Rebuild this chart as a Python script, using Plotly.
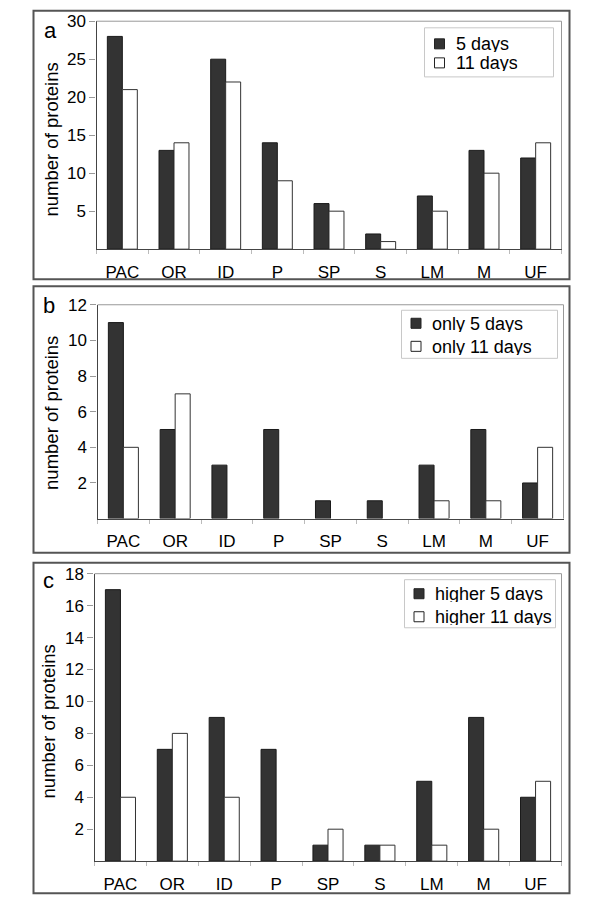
import plotly.graph_objects as go

categories = ["PAC", "OR", "ID", "P", "SP", "S", "LM", "M", "UF"]

a_5days = [28, 13, 25, 14, 6, 2, 7, 13, 12]
a_11days = [21, 14, 22, 9, 5, 1, 5, 10, 14]

b_only5 = [11, 5, 3, 5, 1, 1, 3, 5, 2]
b_only11 = [4, 7, 0, 0, 0, 0, 1, 1, 4]

c_higher5 = [17, 7, 9, 7, 1, 1, 5, 9, 4]
c_higher11 = [4, 8, 4, 0, 2, 1, 1, 2, 5]

names_a = ["5 days", "11 days"]
names_b = ["only 5 days", "only 11 days"]
names_c = ["higher 5 days", "higher 11 days"]

ticks_a = [5, 10, 15, 20, 25, 30]
ticks_b = [2, 4, 6, 8, 10, 12]
ticks_c = [2, 4, 6, 8, 10, 12, 14, 16, 18]

W, H = 600, 906
FONT = "Arial, Liberation Sans, sans-serif"
DARK = "#333333"

# mapping from screenshot pixel positions to figure paper coordinates
def px(xp):
    return (xp - 7.5) / W

def py(yp):
    return 1 - ((yp - 17.2) / 0.9885) / H

def nz(vals):
    return [v if v != 0 else None for v in vals]

panels = [
    dict(s=(a_5days, a_11days), n=names_a, t=ticks_a, ymax=30,
         xl=96, xr=561, yt=21.4, yb=249, box=(33, 11, 569, 279),
         lab="a", lp=(50, 31), tpos=(51, 140),
         leg=(424, 28, 553, 77), mk=(439, 44, 63), tx=453),
    dict(s=(b_only5, b_only11), n=names_b, t=ticks_b, ymax=12,
         xl=97, xr=563, yt=304.5, yb=518, box=(33, 286, 569, 552),
         lab="b", lp=(48, 305), tpos=(51, 413),
         leg=(401, 310, 557, 358), mk=(415.5, 323, 346), tx=429),
    dict(s=(c_higher5, c_higher11), n=names_c, t=ticks_c, ymax=18,
         xl=94, xr=561, yt=573, yb=860, box=(33, 562, 569, 892),
         lab="c", lp=(48, 580), tpos=(48, 721),
         leg=(404, 579, 555, 627), mk=(418.5, 593, 616), tx=432),
]

fig = go.Figure()
shapes = []
annotations = []
layout = {}

for i, p in enumerate(panels):
    k = "" if i == 0 else str(i + 1)
    xa, ya = "x" + k, "y" + k
    s5, s11 = p["s"]
    fig.add_trace(go.Bar(x=categories, y=nz(s5), name=p["n"][0], xaxis=xa, yaxis=ya,
                         marker=dict(color=DARK, line=dict(color="#1a1a1a", width=1)),
                         showlegend=False))
    fig.add_trace(go.Bar(x=categories, y=nz(s11), name=p["n"][1], xaxis=xa, yaxis=ya,
                         marker=dict(color="white", line=dict(color="#333333", width=1)),
                         showlegend=False))
    layout["xaxis" + k] = dict(
        domain=[px(p["xl"]), px(p["xr"])], anchor=ya,
        showline=True, linecolor="#444444", linewidth=1.2,
        ticks="outside", tickson="boundaries", ticklen=4, tickcolor="#bbbbbb",
        ticklabelstandoff=7,
        tickfont=dict(family=FONT, size=17, color="black"),
        showgrid=False, zeroline=False, fixedrange=True,
    )
    layout["yaxis" + k] = dict(
        domain=[py(p["yb"]), py(p["yt"])], anchor=xa,
        range=[0, p["ymax"]], tickmode="array", tickvals=p["t"],
        showline=True, linecolor="#444444", linewidth=1.2,
        ticks="outside", ticklen=6, tickcolor="#999999",
        tickfont=dict(family=FONT, size=17, color="black"),
        showgrid=False, zeroline=False, fixedrange=True,
    )
    shapes.append(dict(type="line", xref=xa + " domain", yref=ya + " domain",
                       x0=0, x1=1, y0=1, y1=1, line=dict(color="#999999", width=1)))
    shapes.append(dict(type="line", xref=xa + " domain", yref=ya + " domain",
                       x0=1, x1=1, y0=0, y1=1, line=dict(color="#999999", width=1)))
    bx0, by0, bx1, by1 = p["box"]
    shapes.append(dict(type="rect", xref="paper", yref="paper",
                       x0=px(bx0), x1=px(bx1), y0=py(by1), y1=py(by0),
                       line=dict(color="#555555", width=2), fillcolor="rgba(0,0,0,0)"))
    lx0, ly0, lx1, ly1 = p["leg"]
    shapes.append(dict(type="rect", xref="paper", yref="paper",
                       x0=px(lx0), x1=px(lx1), y0=py(ly1), y1=py(ly0),
                       line=dict(color="#c8c8c8", width=1), fillcolor="white"))
    mx, my1, my2 = p["mk"]
    for my, fill, name in ((my1, DARK, p["n"][0]), (my2, "white", p["n"][1])):
        shapes.append(dict(type="rect", xref="paper", yref="paper",
                           x0=px(mx - 5), x1=px(mx + 5), y0=py(my + 5), y1=py(my - 5),
                           line=dict(color="#222222", width=1), fillcolor=fill))
        annotations.append(dict(text=name, xref="paper", yref="paper",
                                x=px(p["tx"]), y=py(my), showarrow=False,
                                xanchor="left", yanchor="middle", height=17,
                                font=dict(family=FONT, size=18, color="black")))
    annotations.append(dict(text=p["lab"], xref="paper", yref="paper",
                            x=px(p["lp"][0]), y=py(p["lp"][1]), showarrow=False,
                            xanchor="center", yanchor="middle",
                            font=dict(family=FONT, size=22, color="black")))
    annotations.append(dict(text="number of proteins", xref="paper", yref="paper",
                            x=px(p["tpos"][0]), y=py(p["tpos"][1]), showarrow=False,
                            textangle=-90, xanchor="center", yanchor="middle",
                            font=dict(family=FONT, size=18.5, color="black")))

fig.update_layout(
    width=W, height=H,
    margin=dict(l=0, r=0, t=0, b=0),
    paper_bgcolor="white", plot_bgcolor="white",
    barmode="group", bargap=0.42, bargroupgap=0,
    showlegend=False,
    shapes=shapes, annotations=annotations,
    **layout,
)

fig.write_html("out.html")
